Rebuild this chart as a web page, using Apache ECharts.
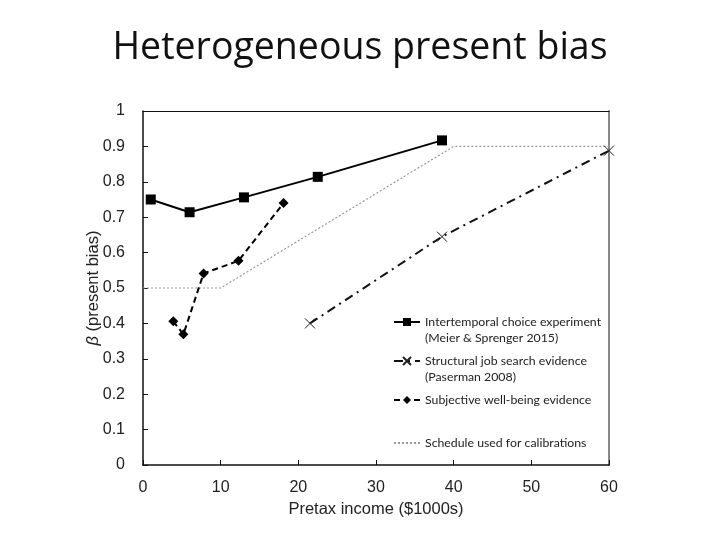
<!DOCTYPE html>
<html>
<head>
<meta charset="utf-8">
<script src="https://cdn.jsdelivr.net/npm/echarts@6/dist/echarts.min.js"></script>
<style>
  html, body { margin: 0; padding: 0; background: #fff; }
  #chart { width: 720px; height: 540px; }
</style>
</head>
<body>
<div id="chart"></div>
<script>
// series names (legend text, two lines where the reference wraps)
const names = [
    'Intertemporal choice experiment',
    'Structural job search evidence',
    'Subjective well-being evidence',
    'Schedule used for calibrations'
];
const subLines = ['(Meier & Sprenger 2015)', '(Paserman 2008)', '', ''];

// income in $1000s, beta
const experimentX = [1, 6, 13, 22.5, 38.5];
const experimentY = [0.75, 0.714, 0.756, 0.814, 0.917];

const jobSearchX = [21.5, 38.5, 60];
const jobSearchY = [0.4, 0.645, 0.888];

const wellBeingX = [3.9, 5.2, 7.8, 12.3, 18.1];
const wellBeingY = [0.406, 0.369, 0.541, 0.577, 0.74];

const scheduleX = [0, 10, 40, 60];
const scheduleY = [0.5, 0.5, 0.9, 0.9];

const pairs = (xs, ys) => xs.map((x, i) => [x, ys[i]]);

const chart = echarts.init(document.getElementById('chart'));

const axisFont = 'Liberation Sans, Arial, sans-serif';
const legendFont = 'Lato, sans-serif';
const legendTops = [293, 332, 387, 430];

// one legend per entry so the icon sits on the first text line
const legends = names.map((n, i) => ({
    orient: 'vertical',
    left: 388,
    top: legendTops[i],
    itemWidth: 26,
    itemHeight: 10,
    itemGap: 0,
    formatter: (name) => subLines[i] ? ' \n' + name + '\n' + subLines[i] : name,
    textStyle: { fontFamily: legendFont, fontSize: 12.3, color: '#222', lineHeight: 16 },
    data: [i === 3
        ? { name: n, itemStyle: { color: 'rgba(0,0,0,0)', borderColor: 'rgba(0,0,0,0)' } }
        : { name: n }]
}));

const option = {
    animation: false,
    backgroundColor: '#fff',
    title: {
        text: 'Heterogeneous present bias',
        left: 'center',
        top: 24,
        textStyle: {
            fontFamily: "'Open Sans', sans-serif",
            fontWeight: 'normal',
            fontSize: 37.5,
            color: '#111'
        }
    },
    legend: legends,
    grid: {
        left: 143,
        right: 111,
        top: 111,
        bottom: 75
    },
    xAxis: [{
        type: 'value',
        min: 0,
        max: 60,
        interval: 10,
        name: 'Pretax income ($1000s)',
        nameLocation: 'middle',
        nameGap: 36,
        nameMoveOverlap: false,
        nameTextStyle: { fontFamily: axisFont, fontSize: 16.5, color: '#222' },
        axisLine: { onZero: false, lineStyle: { color: '#111', width: 1.5 } },
        axisTick: { inside: true, length: 5, lineStyle: { color: '#111' } },
        axisLabel: { fontFamily: axisFont, fontSize: 16, color: '#222', margin: 15 },
        splitLine: { show: false }
    }, {
        type: 'value',
        position: 'top',
        min: 0,
        max: 60,
        axisLine: { show: true, onZero: false, lineStyle: { color: '#111', width: 1.2 } },
        axisTick: { show: false },
        axisLabel: { show: false },
        splitLine: { show: false }
    }],
    yAxis: [{
        type: 'value',
        min: 0,
        max: 1,
        interval: 0.1,
        name: '{i|β} (present bias)',
        nameLocation: 'middle',
        nameGap: 41,
        nameMoveOverlap: false,
        nameTextStyle: {
            fontFamily: axisFont,
            fontSize: 16.5,
            color: '#222',
            rich: { i: { fontStyle: 'italic', fontSize: 16.5, fontFamily: axisFont, color: '#222' } }
        },
        axisLine: { show: true, onZero: false, lineStyle: { color: '#111', width: 1.5 } },
        axisTick: { show: true, inside: true, length: 5, lineStyle: { color: '#111' } },
        axisLabel: {
            fontFamily: axisFont,
            fontSize: 16,
            color: '#222',
            margin: 18,
            formatter: (v) => String(Math.round(v * 10) / 10)
        },
        splitLine: { show: false }
    }, {
        type: 'value',
        position: 'right',
        min: 0,
        max: 1,
        axisLine: { show: true, onZero: false, lineStyle: { color: '#888', width: 2 } },
        axisTick: { show: false },
        axisLabel: { show: false },
        splitLine: { show: false }
    }],
    series: [
        {
            name: names[0],
            type: 'line',
            data: pairs(experimentX, experimentY),
            symbol: 'rect',
            symbolSize: 10,
            itemStyle: { color: '#000' },
            lineStyle: { color: '#000', width: 2 }
        },
        {
            name: names[1],
            type: 'line',
            data: pairs(jobSearchX, jobSearchY),
            symbol: 'path://M0,0L10,10M10,0L0,10',
            symbolSize: 10,
            itemStyle: { color: 'rgba(0,0,0,0)', borderColor: '#222', borderWidth: 1 },
            lineStyle: { color: '#111', width: 2, type: [9, 5, 2, 5] }
        },
        {
            name: names[2],
            type: 'line',
            data: pairs(wellBeingX, wellBeingY),
            symbol: 'diamond',
            symbolSize: 10,
            itemStyle: { color: '#000' },
            lineStyle: { color: '#000', width: 2, type: [6, 4] }
        },
        {
            name: names[3],
            type: 'line',
            data: pairs(scheduleX, scheduleY),
            symbol: 'none',
            itemStyle: { color: '#999' },
            lineStyle: { color: '#999', width: 1.2, type: [2, 2] },
            z: 1
        }
    ]
};

chart.setOption(option);
window.addEventListener('resize', () => chart.resize());
</script>
</body>
</html>
